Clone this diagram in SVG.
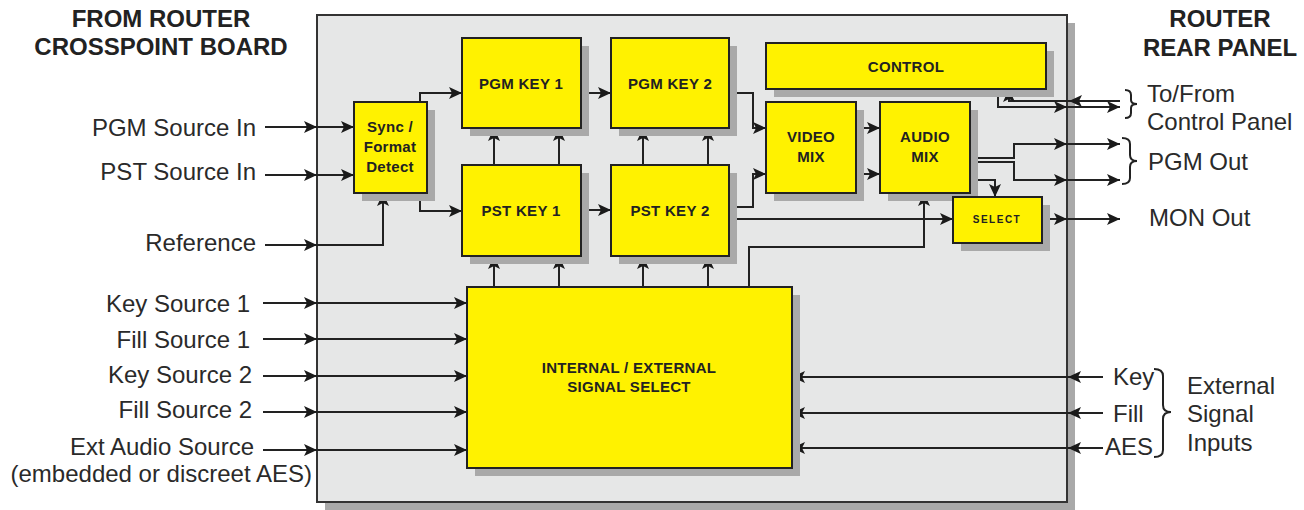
<svg xmlns="http://www.w3.org/2000/svg" width="1304" height="510" viewBox="0 0 1304 510">
<style>
text{font-family:"Liberation Sans",Arial,sans-serif;fill:#222}
.lbl{font-size:24px;fill:#2a2a2a}
.hdr{font-size:24px;font-weight:bold;text-anchor:middle}
.bx{font-size:15px;font-weight:bold;text-anchor:middle;letter-spacing:0.3px}
.box{fill:#fff200;stroke:#222;stroke-width:2}
.sh{fill:#a9a9a9}
.c{fill:none;stroke:#222;stroke-width:2}
.a{marker-end:url(#ah)}
.br{fill:none;stroke:#222;stroke-width:2}
</style>
<defs>
<marker id="ah" markerUnits="userSpaceOnUse" markerWidth="15" markerHeight="13" refX="13" refY="6.5" orient="auto">
<path d="M0,0.5 L13,6.5 L0,12.5 L3,6.5 Z" fill="#1a1a1a"/>
</marker>
</defs>
<rect width="1304" height="510" fill="#fff"/>
<g id="panel">
<rect x="325" y="23" width="750" height="487" class="sh"/>
<rect x="317" y="15" width="750" height="487" fill="#e6e7e7" stroke="#333" stroke-width="2"/>
</g>
<g id="headers">
<text class="hdr" x="161" y="27">FROM ROUTER</text>
<text class="hdr" x="161" y="55">CROSSPOINT BOARD</text>
<text class="hdr" x="1220" y="27">ROUTER</text>
<text class="hdr" x="1220" y="56">REAR PANEL</text>
</g>
<g id="left-labels" text-anchor="end">
<text class="lbl" x="256" y="136">PGM Source In</text>
<text class="lbl" x="256" y="180">PST Source In</text>
<text class="lbl" x="256" y="251">Reference</text>
<text class="lbl" x="250" y="312">Key Source 1</text>
<text class="lbl" x="250" y="348">Fill Source 1</text>
<text class="lbl" x="252" y="383">Key Source 2</text>
<text class="lbl" x="252" y="418">Fill Source 2</text>
<text class="lbl" x="254" y="455">Ext Audio Source</text>
<text class="lbl" x="312" y="482">(embedded or discreet AES)</text>
</g>
<g id="right-labels">
<text class="lbl" x="1147" y="102">To/From</text>
<text class="lbl" x="1147" y="130">Control Panel</text>
<text class="lbl" x="1148" y="170">PGM Out</text>
<text class="lbl" x="1149" y="226">MON Out</text>
<text class="lbl" x="1113" y="385">Key</text>
<text class="lbl" x="1113" y="422">Fill</text>
<text class="lbl" x="1105" y="455">AES</text>
<text class="lbl" x="1187" y="394">External</text>
<text class="lbl" x="1187" y="422">Signal</text>
<text class="lbl" x="1187" y="451">Inputs</text>
<path class="br" d="M1125,90 Q1131,90 1131,95 V100 Q1131,104 1137,104 Q1131,104 1131,108 V113 Q1131,118 1125,118"/>
<path class="br" d="M1122,138 Q1130,138 1130,144 V155 Q1130,161 1137,161 Q1130,161 1130,167 V178 Q1130,184 1122,184"/>
<path class="br" d="M1154,369 Q1163,369 1163,376 V405 Q1163,412 1171,412 Q1163,412 1163,419 V450 Q1163,457 1154,457"/>
</g>
<g id="connectors">
<path class="c a" d="M265,127 H317"/><path class="c a" d="M317,127 H354"/>
<path class="c a" d="M265,175 H317"/><path class="c a" d="M317,175 H354"/>
<path class="c a" d="M265,245 H317"/><path class="c a" d="M317,245 H383 V193"/>
<path class="c a" d="M420,102 V93 H462"/>
<path class="c a" d="M420,193 V211 H462"/>
<path class="c a" d="M581,93 H611"/>
<path class="c a" d="M581,210 H611"/>
<path class="c a" d="M494,165 V128"/><path class="c a" d="M559,165 V128"/>
<path class="c a" d="M643,165 V128"/><path class="c a" d="M708,165 V128"/>
<path class="c a" d="M494,287 V256"/><path class="c a" d="M559,287 V256"/>
<path class="c a" d="M643,287 V256"/><path class="c a" d="M708,287 V256"/>
<path class="c a" d="M729,93 H753 V128 H766"/>
<path class="c a" d="M729,207 H753 V174 H766"/>
<path class="c a" d="M729,219 H953"/>
<path class="c a" d="M856,128 H880"/><path class="c a" d="M856,174 H880"/>
<path class="c a" d="M749,287 V247 H924 V193"/>
<path class="c a" d="M970,158 H1014 V144 H1067"/><path class="c a" d="M1067,144 H1120"/>
<path class="c a" d="M970,162 H1014 V180 H1067"/><path class="c a" d="M1067,180 H1120"/>
<path class="c a" d="M970,180 H995 V197"/>
<path class="c a" d="M1042,219 H1067"/><path class="c a" d="M1067,219 H1120"/>
<path class="c a" d="M998,89 V107 H1067"/><path class="c a" d="M1067,107 H1120"/>
<path class="c a" d="M1120,101 H1069"/><path class="c a" d="M1069,101 H1009 V89"/>
<path class="c a" d="M263,303 H317"/><path class="c a" d="M317,303 H467"/>
<path class="c a" d="M263,339 H317"/><path class="c a" d="M317,339 H467"/>
<path class="c a" d="M263,376 H317"/><path class="c a" d="M317,376 H467"/>
<path class="c a" d="M263,412 H317"/><path class="c a" d="M317,412 H467"/>
<path class="c a" d="M263,450 H317"/><path class="c a" d="M317,450 H467"/>
<path class="c a" d="M1103,377 H1068"/><path class="c a" d="M1068,377 H792"/>
<path class="c a" d="M1103,413 H1068"/><path class="c a" d="M1068,413 H792"/>
<path class="c a" d="M1103,448 H1068"/><path class="c a" d="M1068,448 H792"/>
</g>
<g id="sync">
<rect x="362" y="110" width="73" height="91" class="sh"/>
<rect x="354" y="102" width="73" height="91" class="box"/>
<text class="bx" x="390" y="132">Sync /</text>
<text class="bx" x="390" y="152">Format</text>
<text class="bx" x="390" y="172">Detect</text>
</g>
<g id="pgm-key-1">
<rect x="470" y="46" width="119" height="90" class="sh"/>
<rect x="462" y="38" width="119" height="90" class="box"/>
<text class="bx" x="521" y="89">PGM KEY 1</text>
</g>
<g id="pgm-key-2">
<rect x="619" y="46" width="118" height="90" class="sh"/>
<rect x="611" y="38" width="118" height="90" class="box"/>
<text class="bx" x="670" y="89">PGM KEY 2</text>
</g>
<g id="pst-key-1">
<rect x="470" y="173" width="119" height="91" class="sh"/>
<rect x="462" y="165" width="119" height="91" class="box"/>
<text class="bx" x="521" y="216">PST KEY 1</text>
</g>
<g id="pst-key-2">
<rect x="619" y="173" width="118" height="91" class="sh"/>
<rect x="611" y="165" width="118" height="91" class="box"/>
<text class="bx" x="670" y="216">PST KEY 2</text>
</g>
<g id="control">
<rect x="774" y="51" width="280" height="46" class="sh"/>
<rect x="766" y="43" width="280" height="46" class="box"/>
<text class="bx" x="906" y="72">CONTROL</text>
</g>
<g id="video-mix">
<rect x="774" y="110" width="90" height="91" class="sh"/>
<rect x="766" y="102" width="90" height="91" class="box"/>
<text class="bx" x="811" y="142">VIDEO</text>
<text class="bx" x="811" y="162">MIX</text>
</g>
<g id="audio-mix">
<rect x="888" y="110" width="90" height="91" class="sh"/>
<rect x="880" y="102" width="90" height="91" class="box"/>
<text class="bx" x="925" y="142">AUDIO</text>
<text class="bx" x="925" y="162">MIX</text>
</g>
<g id="select">
<rect x="961" y="205" width="89" height="46" class="sh"/>
<rect x="953" y="197" width="89" height="46" class="box"/>
<text x="997" y="223" font-size="10" font-weight="bold" text-anchor="middle" letter-spacing="1.5">SELECT</text>
</g>
<g id="internal-external">
<rect x="475" y="295" width="325" height="181" class="sh"/>
<rect x="467" y="287" width="325" height="181" class="box"/>
<text class="bx" x="629" y="373">INTERNAL / EXTERNAL</text>
<text class="bx" x="629" y="392">SIGNAL SELECT</text>
</g>
</svg>
